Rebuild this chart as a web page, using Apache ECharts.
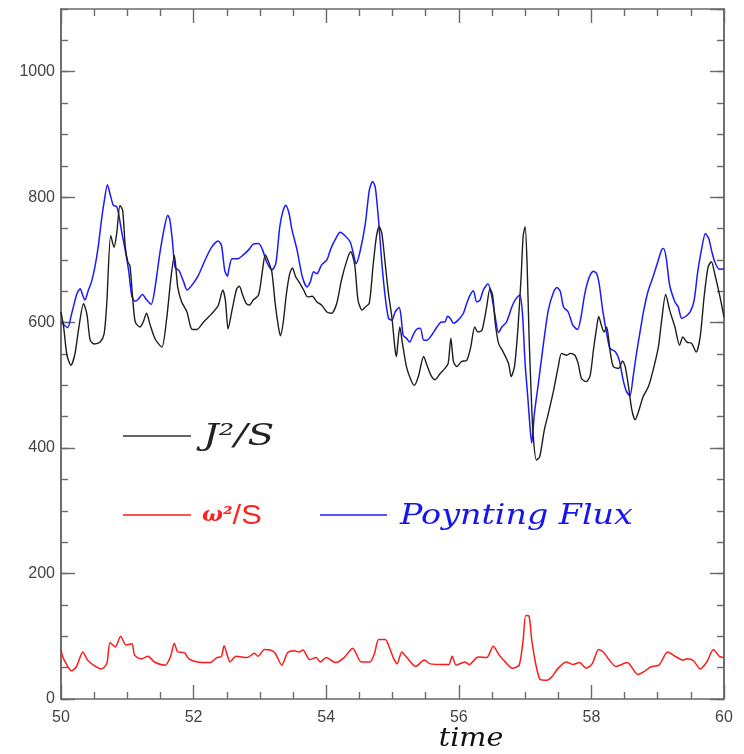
<!DOCTYPE html>
<html>
<head>
<meta charset="utf-8">
<script src="https://cdn.jsdelivr.net/npm/echarts@6/dist/echarts.min.js"></script>
<style>html,body{margin:0;padding:0;background:#fff}#c{width:744px;height:754px}</style>
</head>
<body>
<div id="c"></div>
<script>
// ---- data ----
var xTicks = [50, 52, 54, 56, 58, 60];
var yTicks = [0, 200, 400, 600, 800, 1000];

var tBlack = [50.00,50.04,50.09,50.15,50.21,50.27,50.34,50.39,50.44,50.50,50.59,50.65,50.69,50.75,50.80,50.84,50.89,50.93,50.97,51.01,51.04,51.08,51.12,51.19,51.24,51.29,51.34,51.42,51.52,51.59,51.66,51.71,51.76,51.82,51.90,51.97,52.05,52.15,52.27,52.37,52.44,52.48,52.52,52.58,52.65,52.69,52.74,52.79,52.84,52.90,52.98,53.04,53.08,53.12,53.18,53.23,53.28,53.31,53.35,53.40,53.45,53.49,53.54,53.59,53.66,53.72,53.79,53.86,53.93,54.01,54.08,54.16,54.23,54.32,54.37,54.43,54.48,54.54,54.59,54.65,54.71,54.76,54.80,54.84,54.89,54.94,54.99,55.04,55.06,55.08,55.11,55.15,55.21,55.28,55.33,55.39,55.47,55.52,55.58,55.64,55.72,55.79,55.84,55.88,55.92,55.97,56.04,56.12,56.18,56.24,56.29,56.35,56.42,56.47,56.51,56.55,56.60,56.67,56.75,56.79,56.84,56.89,56.94,56.97,57.00,57.03,57.06,57.09,57.12,57.17,57.22,57.29,57.35,57.43,57.50,57.55,57.63,57.68,57.75,57.80,57.85,57.92,57.98,58.03,58.08,58.11,58.15,58.19,58.23,58.28,58.33,58.41,58.47,58.51,58.56,58.61,58.66,58.71,58.78,58.86,58.93,59.01,59.06,59.12,59.18,59.26,59.33,59.38,59.44,59.51,59.58,59.64,59.70,59.76,59.81,59.86,59.93,60.00];
var vBlack = [617,593,548,532,550,593,630,614,572,566,569,582,630,739,720,742,787,779,720,696,691,641,601,593,601,615,598,574,561,603,673,707,657,633,617,590,589,601,614,627,652,635,590,620,654,658,644,631,628,636,644,684,708,700,681,631,593,579,599,646,678,687,673,665,652,641,642,633,628,617,615,631,668,702,713,692,636,620,625,631,694,739,753,742,694,646,609,556,546,567,593,567,530,508,500,514,546,532,516,509,519,527,535,575,538,530,538,540,561,593,585,588,625,654,644,599,567,553,535,514,530,588,673,737,753,694,577,492,423,381,386,429,455,492,530,551,548,551,548,535,511,506,515,556,593,610,596,585,593,556,530,527,539,530,498,461,445,458,482,498,524,561,604,645,620,593,564,577,569,567,553,577,641,689,697,678,646,609];

var tBlue = [50.00,50.06,50.10,50.16,50.24,50.29,50.32,50.36,50.41,50.46,50.51,50.56,50.61,50.65,50.70,50.74,50.79,50.84,50.87,50.92,50.97,51.02,51.07,51.12,51.17,51.23,51.28,51.36,51.42,51.49,51.56,51.61,51.64,51.68,51.72,51.78,51.85,51.90,51.97,52.07,52.17,52.27,52.37,52.42,52.47,52.51,52.53,52.58,52.67,52.75,52.83,52.90,52.98,53.04,53.10,53.18,53.24,53.30,53.35,53.39,53.44,53.48,53.56,53.64,53.71,53.76,53.81,53.86,53.93,54.01,54.07,54.16,54.21,54.28,54.36,54.41,54.45,54.51,54.59,54.65,54.70,54.74,54.79,54.84,54.89,54.94,54.99,55.04,55.10,55.13,55.16,55.21,55.26,55.31,55.36,55.42,55.47,55.52,55.59,55.67,55.74,55.79,55.83,55.87,55.92,55.99,56.07,56.12,56.17,56.22,56.27,56.32,56.37,56.44,56.49,56.54,56.60,56.65,56.72,56.80,56.86,56.92,56.96,57.00,57.04,57.07,57.10,57.14,57.20,57.27,57.35,57.43,57.48,57.53,57.58,57.65,57.72,57.79,57.84,57.90,57.97,58.03,58.08,58.12,58.17,58.23,58.28,58.36,58.42,58.48,58.53,58.58,58.63,58.68,58.73,58.79,58.86,58.93,59.01,59.06,59.09,59.13,59.18,59.26,59.31,59.36,59.41,59.49,59.55,59.60,59.66,59.72,59.77,59.81,59.86,59.93,60.00];
var vBlue = [601,595,592,614,646,654,646,636,651,665,688,720,763,792,820,805,787,785,773,742,715,683,641,634,638,645,638,629,657,710,752,771,765,731,688,683,665,652,659,675,699,720,730,723,683,674,684,702,702,708,716,725,726,716,697,684,694,753,779,787,774,750,716,673,657,665,681,678,692,700,718,737,744,739,729,710,694,713,758,811,825,816,763,694,641,607,604,617,624,609,580,575,569,580,589,591,572,572,580,593,601,601,610,607,599,604,615,631,644,651,633,636,652,662,646,615,584,593,601,625,638,644,615,535,482,439,408,455,503,561,620,649,656,650,625,617,596,589,607,646,673,682,678,660,620,583,559,554,540,508,490,483,514,551,583,620,652,673,700,716,718,702,660,633,625,607,609,617,636,678,716,742,734,716,697,685,686];

var tRed = [50.00,50.04,50.16,50.23,50.33,50.40,50.49,50.61,50.69,50.74,50.82,50.90,50.98,51.07,51.11,51.21,51.31,51.41,51.57,51.65,51.71,51.76,51.86,51.93,52.06,52.25,52.35,52.42,52.46,52.55,52.64,52.81,52.92,52.97,53.07,53.16,53.23,53.33,53.42,53.52,53.59,53.65,53.75,53.85,53.91,54.00,54.14,54.27,54.40,54.53,54.66,54.73,54.79,54.89,54.95,55.02,55.07,55.14,55.21,55.35,55.48,55.57,55.77,55.85,55.90,55.96,56.09,56.16,56.29,56.42,56.52,56.61,56.71,56.81,56.91,56.97,57.01,57.06,57.10,57.17,57.23,57.33,57.40,57.49,57.62,57.72,57.82,57.92,58.01,58.11,58.18,58.27,58.37,58.54,58.70,58.80,58.89,59.02,59.15,59.28,59.38,59.44,59.54,59.64,59.74,59.84,59.93,60.00];
var vRed = [78,64,45,51,75,62,54,48,56,90,83,100,86,88,70,64,68,59,54,67,89,75,74,64,59,58,66,68,85,59,68,66,73,68,79,78,73,54,74,77,75,78,63,66,59,66,58,66,81,59,59,73,95,95,83,64,56,75,67,52,62,56,55,55,68,54,59,55,67,66,84,70,58,49,54,94,133,132,94,51,31,30,35,48,59,55,58,49,56,79,75,62,52,58,39,44,51,54,75,67,62,64,61,48,59,79,68,66];

var legendNames = ['J\u00b2/S', '\u03c9\u00b2/S', 'Poynting Flux'];
var xTitle = 'time';

function pairs(t, v) { return t.map(function (x, i) { return [x, v[i]]; }); }

var chart = echarts.init(document.getElementById('c'), null, {renderer: 'canvas'});
var frameColor = '#6a6a6a';
function xAx(pos, labels) {
  return {
    type: 'value', position: pos, min: xTicks[0], max: xTicks[xTicks.length - 1],
    interval: xTicks[1] - xTicks[0],
    axisLine: {show: true, onZero: false, lineStyle: {color: frameColor, width: 1.6}},
    axisTick: {show: true, inside: true, length: 14, lineStyle: {color: frameColor, width: 1.4}},
    minorTick: {show: true, splitNumber: 4, length: 7, lineStyle: {color: frameColor, width: 1.4}},
    axisLabel: {show: labels, margin: 11, color: '#444', fontSize: 16, fontFamily: 'Liberation Sans'},
    splitLine: {show: false}, minorSplitLine: {show: false}
  };
}
function yAx(pos, step, len, labels) {
  return {
    type: 'value', position: pos, min: 0, max: 1100, interval: step,
    axisLine: {show: true, onZero: false, lineStyle: {color: frameColor, width: 1.6}},
    axisTick: {show: true, inside: true, length: len, lineStyle: {color: frameColor, width: 1.4}},
    axisLabel: {show: labels, margin: 6, color: '#444', fontSize: 16, fontFamily: 'Liberation Sans',
      showMaxLabel: false,
      formatter: function (v) { return yTicks.indexOf(v) >= 0 ? String(v) : ''; }},
    splitLine: {show: false}
  };
}

chart.setOption({
  animation: false,
  backgroundColor: '#fff',
  grid: {left: 61, right: 20, top: 9, bottom: 55, containLabel: false, outerBoundsMode: 'none'},
  xAxis: [xAx('bottom', true), xAx('top', false)],
  yAxis: [yAx('left', 200, 14, true), yAx('left', 50, 7, false), yAx('right', 200, 14, false), yAx('right', 50, 7, false)],
  series: [
    {name: legendNames[0], type: 'line', data: pairs(tBlack, vBlack), showSymbol: false, symbol: 'none', smooth: 0.25,
     lineStyle: {color: '#1e1e1e', width: 1.4}, itemStyle: {color: '#1e1e1e'}, z: 3},
    {name: legendNames[2], type: 'line', data: pairs(tBlue, vBlue), showSymbol: false, symbol: 'none', smooth: 0.25,
     lineStyle: {color: '#1a1aff', width: 1.5}, itemStyle: {color: '#1a1aff'}, z: 2},
    {name: legendNames[1], type: 'line', data: pairs(tRed, vRed), showSymbol: false, symbol: 'none', smooth: 0.25,
     lineStyle: {color: '#ff1a1a', width: 1.5}, itemStyle: {color: '#ff1a1a'}, z: 2}
  ],
  graphic: [
    {type: 'line', shape: {x1: 123, y1: 436, x2: 191, y2: 436}, style: {stroke: '#333', lineWidth: 1.3}},
    {type: 'text', x: 203, y: 437, scaleX: 1.3, style: {text: legendNames[0], font: 'italic 30px "DejaVu Serif"', fill: '#222', verticalAlign: 'middle'}},
    {type: 'line', shape: {x1: 123, y1: 515, x2: 191, y2: 515}, style: {stroke: '#ff1a1a', lineWidth: 1.3}},
    {type: 'text', x: 202, y: 516, scaleX: 1.1, style: {
      text: '{w|\u03c9\u00b2}{r|/S}', verticalAlign: 'middle', fill: '#ff2020',
      rich: {w: {font: 'bold italic 20px "DejaVu Serif"', fill: '#ff2020'}, r: {font: '28px "Liberation Sans"', fill: '#ff2020'}}}},
    {type: 'line', shape: {x1: 320, y1: 515, x2: 387, y2: 515}, style: {stroke: '#1a1aff', lineWidth: 1.3}},
    {type: 'text', x: 400, y: 517, scaleX: 1.19, style: {text: legendNames[2], font: 'italic 28px "DejaVu Serif"', fill: '#1515f0', verticalAlign: 'middle'}},
    {type: 'text', x: 471, y: 739, scaleX: 1.1, style: {text: xTitle, font: 'italic 26px "DejaVu Serif"', fill: '#111', align: 'center', verticalAlign: 'middle'}}
  ]
});
</script>
</body>
</html>
